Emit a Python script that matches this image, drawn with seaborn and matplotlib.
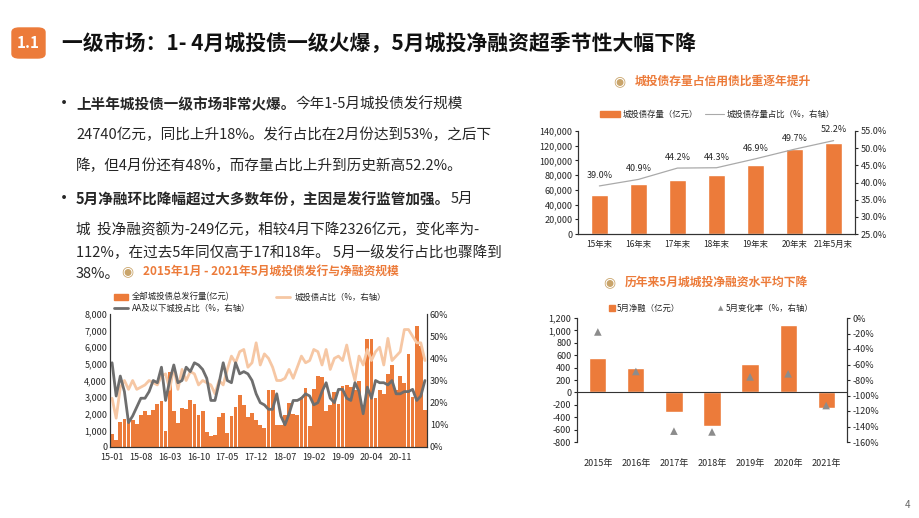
import numpy as np
import pandas as pd
import matplotlib
matplotlib.use("Agg")
import matplotlib.pyplot as plt
import seaborn as sns
from matplotlib.patches import FancyBboxPatch
from matplotlib.ticker import FuncFormatter

plt.rcParams["font.family"] = ["Noto Sans CJK SC"]
plt.rcParams["axes.unicode_minus"] = False
sns.set_style("white", {"font.family": ["Noto Sans CJK SC"]})

ORANGE = "#EC7B3A"
LIGHT = "#F6C7A4"
GREY = "#6E6E6E"
TAN = "#C9A46A"

# ── data: monthly issuance 2015-01 .. 2021-05 ─────────────────────────────────
issue_amt = [800, 400, 1500, 1700, 1600, 1600, 1400, 1900, 2150, 1900, 2200, 2600,
             2750, 950, 4500, 2150, 1450, 2350, 2300, 2850, 2600, 1900, 2150, 900,
             650, 700, 1800, 2050, 850, 1850, 2400, 3150, 2500, 1800, 2050, 1650,
             1300, 1150, 3400, 3400, 1300, 1350, 1900, 2650, 2000, 1950, 3000, 3550,
             1250, 3500, 4300, 4200, 2150, 2550, 3300, 2600, 3650, 3700, 3600, 3450,
             3950, 2500, 6500, 6500, 2950, 3450, 3200, 4400, 4950, 3400, 4300, 3850,
             5600, 3000, 7300, 6100, 2250]
issue_share = [22, 13, 27, 30, 26, 30, 26, 27, 28, 30, 29, 28,
               32, 33, 26, 36, 26, 35, 30, 34, 33, 28, 30, 29,
               28, 24, 30, 28, 35, 41, 38, 43, 44, 36, 38, 47,
               37, 42, 40, 36, 30, 30, 31, 35, 31, 36, 41, 38,
               39, 44, 43, 37, 44, 35, 40, 41, 39, 46, 37, 30,
               41, 37, 44, 39, 43, 45, 37, 49, 39, 41, 43, 53,
               53, 50, 47, 47, 39]
aa_share = [38, 23, 32, 25, 11, 14, 18, 22, 22, 25, 30, 29,
            36, 21, 30, 37, 29, 30, 36, 34, 38, 37, 35, 31,
            21, 21, 29, 38, 30, 29, 38, 33, 34, 33, 30, 24,
            20, 19, 17, 17, 24, 14, 10, 15, 21, 21, 22, 24,
            23, 19, 20, 25, 29, 22, 20, 26, 26, 22, 21, 29,
            25, 15, 27, 22, 30, 29, 29, 28, 30, 24, 24, 25,
            25, 26, 21, 23, 30]
months = pd.date_range("2015-01", periods=len(issue_amt), freq="MS").strftime("%y-%m")

stock_labels = ["15年末", "16年末", "17年末", "18年末", "19年末", "20年末", "21年5月末"]
stock_amt = [53000, 68000, 74000, 80000, 94000, 115000, 124000]
stock_share = [39.0, 40.9, 44.2, 44.3, 46.9, 49.7, 52.2]

net_years = ["2015年", "2016年", "2017年", "2018年", "2019年", "2020年", "2021年"]
net_may = [560, 390, -320, -540, 460, 1090, -250]
net_chg = [-18, -69, -146, -147, -76, -72, -113]

W, H = 920, 518
fig = plt.figure(figsize=(9.2, 5.18), dpi=100)


def px_axes(x0, y0, x1, y1):
    return fig.add_axes([x0 / W, 1 - y1 / H, (x1 - x0) / W, (y1 - y0) / H])


def fy(y):
    return 1 - y / H


# ── header ────────────────────────────────────────────────────────────────────
fig.patches.append(FancyBboxPatch((12 / W, fy(58)), 33 / W, 30 / H,
                                  boxstyle="round,pad=0,rounding_size=0.008",
                                  transform=fig.transFigure, color=ORANGE))
fig.text(28.5 / W, fy(43), "1.1", color="white", fontsize=11, fontweight="bold",
         ha="center", va="center")
fig.text(62 / W, fy(43), "一级市场：1- 4月城投债一级火爆，5月城投净融资超季节性大幅下降",
         fontsize=15, fontweight="bold", va="center", color="#111111")

# ── bullets ───────────────────────────────────────────────────────────────────
renderer = fig.canvas.get_renderer()
FS = 10.5


def mixed(x, y, bold, rest):
    t = fig.text(x / W, fy(y), bold, fontsize=FS, fontweight="bold", va="center")
    bb = t.get_window_extent(renderer)
    fig.text(bb.x1 / W, fy(y), rest, fontsize=FS, va="center")


fig.text(55 / W, fy(104), "•", fontsize=13, va="center")
mixed(76, 104, "上半年城投债一级市场非常火爆。", "今年1-5月城投债发行规模")
fig.text(76 / W, fy(135), "24740亿元，同比上升18%。发行占比在2月份达到53%，之后下", fontsize=FS, va="center")
fig.text(76 / W, fy(166), "降，但4月份还有48%，而存量占比上升到历史新高52.2%。", fontsize=FS, va="center")
fig.text(55 / W, fy(199), "•", fontsize=13, va="center")
mixed(76, 199, "5月净融环比降幅超过大多数年份，主因是发行监管加强。", "5月")
fig.text(76 / W, fy(230), "城  投净融资额为-249亿元，相较4月下降2326亿元，变化率为-", fontsize=FS, va="center")
fig.text(76 / W, fy(253), "112%，在过去5年同仅高于17和18年。 5月一级发行占比也骤降到", fontsize=FS, va="center")
fig.text(76 / W, fy(274), "38%。", fontsize=FS, va="center")


def chart_title(x, y, s):
    fig.text(x / W, fy(y), "◉", color=TAN, fontsize=10, va="center", family="DejaVu Sans")
    fig.text((x + 22) / W, fy(y), s, color=ORANGE, fontsize=8.5, fontweight="bold", va="center")


# ── chart 1: monthly issuance ─────────────────────────────────────────────────
chart_title(121, 271, "2015年1月 - 2021年5月城投债发行与净融资规模")
ax1 = px_axes(110, 314, 427, 447)
df1 = pd.DataFrame({"m": months, "amt": issue_amt})
sns.barplot(data=df1, x="m", y="amt", color=ORANGE, saturation=1, width=0.92,
            linewidth=0, ax=ax1)
ax1b = ax1.twinx()
x = np.arange(len(months))
sns.lineplot(x=x, y=issue_share, color=LIGHT, lw=2, ax=ax1b)
sns.lineplot(x=x, y=aa_share, color=GREY, lw=2, ax=ax1b)
ax1.set_ylim(0, 8000)
ax1b.set_ylim(0, 60)
ax1.set_xlim(-0.5, len(months) - 0.5)
ax1.set_yticks(range(0, 8001, 1000))
ax1.yaxis.set_major_formatter(FuncFormatter(lambda v, p: f"{v:,.0f}"))
ax1b.set_yticks(range(0, 61, 10))
ax1b.yaxis.set_major_formatter(FuncFormatter(lambda v, p: f"{v:.0f}%"))
ax1.set_xticks(x[::7])
ax1.set_xticklabels(months[::7])
ax1.set_xlabel("")
ax1.set_ylabel("")
for a in (ax1, ax1b):
    a.tick_params(labelsize=6.5, length=0, pad=2)
    a.spines["top"].set_visible(False)
    for s in ("left", "right", "bottom"):
        a.spines[s].set_color("#333333")
        a.spines[s].set_linewidth(0.8)
ax1.tick_params(axis="x", length=2)
fig.patches.append(FancyBboxPatch((114 / W, fy(300)), 14 / W, 6 / H, boxstyle="square,pad=0",
                                  transform=fig.transFigure, color=ORANGE))
fig.text(132 / W, fy(297), "全部城投债总发行量(亿元)", fontsize=6, va="center")
fig.lines.append(plt.Line2D([114 / W, 128 / W], [fy(308)] * 2, color=GREY, lw=2, transform=fig.transFigure))
fig.text(132 / W, fy(308), "AA及以下城投占比（%，右轴）", fontsize=6, va="center")
fig.lines.append(plt.Line2D([276 / W, 290 / W], [fy(297)] * 2, color=LIGHT, lw=2, transform=fig.transFigure))
fig.text(295 / W, fy(297), "城投债占比（%，右轴）", fontsize=6, va="center")

# ── chart 2: outstanding stock ────────────────────────────────────────────────
chart_title(613, 81, "城投债存量占信用债比重逐年提升")
ax2 = px_axes(578, 131, 855, 234)
df2 = pd.DataFrame({"y": stock_labels, "amt": stock_amt})
sns.barplot(data=df2, x="y", y="amt", color=ORANGE, saturation=1, width=0.45, ax=ax2)
ax2b = ax2.twinx()
x2 = np.arange(len(stock_labels))
sns.lineplot(x=x2, y=stock_share, color="#AAAAAA", lw=0.9, ax=ax2b)
for xi, v in zip(x2, stock_share):
    ax2b.text(xi, v + 1.8, f"{v:.1f}%", ha="center", va="bottom", fontsize=6.5)
ax2.set_ylim(0, 140000)
ax2b.set_ylim(25, 55)
ax2.set_yticks(range(0, 140001, 20000))
ax2.yaxis.set_major_formatter(FuncFormatter(lambda v, p: f"{v:,.0f}"))
ax2b.set_yticks(np.arange(25, 55.1, 5))
ax2b.yaxis.set_major_formatter(FuncFormatter(lambda v, p: f"{v:.1f}%"))
ax2.set_xlabel("")
ax2.set_ylabel("")
for a in (ax2, ax2b):
    a.tick_params(labelsize=6.5, length=2, pad=2)
    a.spines["top"].set_visible(False)
    for s in ("left", "right", "bottom"):
        a.spines[s].set_color("#333333")
        a.spines[s].set_linewidth(0.8)
ax2.tick_params(axis="x", labelsize=6)
fig.patches.append(FancyBboxPatch((600 / W, fy(117)), 20 / W, 6 / H, boxstyle="square,pad=0",
                                  transform=fig.transFigure, color=ORANGE))
fig.text(623 / W, fy(114), "城投债存量（亿元）", fontsize=6, va="center")
fig.lines.append(plt.Line2D([705 / W, 724 / W], [fy(114)] * 2, color="#AAAAAA", lw=0.8, transform=fig.transFigure))
fig.text(727 / W, fy(114), "城投债存量占比（%，右轴）", fontsize=6, va="center")

# ── chart 3: May net financing ────────────────────────────────────────────────
chart_title(603, 282, "历年来5月城城投净融资水平均下降")
ax3 = px_axes(577, 318, 847, 442)
df3 = pd.DataFrame({"y": net_years, "v": net_may})
sns.barplot(data=df3, x="y", y="v", color=ORANGE, saturation=1, width=0.45, ax=ax3)
ax3b = ax3.twinx()
x3 = np.arange(len(net_years))
sns.scatterplot(x=x3, y=net_chg, marker="^", color="#8C8C8C", s=30, edgecolor="none", ax=ax3b)
ax3.axhline(0, color="#333333", lw=0.8)
ax3.set_ylim(-800, 1200)
ax3b.set_ylim(-160, 0)
ax3.set_yticks(range(-800, 1201, 200))
ax3.yaxis.set_major_formatter(FuncFormatter(lambda v, p: f"{v:,.0f}"))
ax3b.set_yticks(range(-160, 1, 20))
ax3b.yaxis.set_major_formatter(FuncFormatter(lambda v, p: f"{v:.0f}%"))
ax3.set_xlabel("")
ax3.set_ylabel("")
for a in (ax3, ax3b):
    a.tick_params(labelsize=6.5, length=2, pad=2)
    for s in ("top", "bottom"):
        a.spines[s].set_visible(False)
    for s in ("left", "right"):
        a.spines[s].set_color("#333333")
        a.spines[s].set_linewidth(0.8)
ax3.tick_params(axis="x", length=0, pad=12)
fig.patches.append(FancyBboxPatch((609 / W, fy(311)), 6 / W, 6 / H, boxstyle="square,pad=0",
                                  transform=fig.transFigure, color=ORANGE))
fig.text(617 / W, fy(308), "5月净融（亿元）", fontsize=6, va="center")
fig.text(718 / W, fy(308), "▲", fontsize=5, color="#8C8C8C", va="center", family="DejaVu Sans")
fig.text(726 / W, fy(308), "5月变化率（%，右轴）", fontsize=6, va="center")

fig.text(905 / W, fy(505), "4", fontsize=7, color="#666666", va="center")

fig.savefig("out.png", dpi=100)
